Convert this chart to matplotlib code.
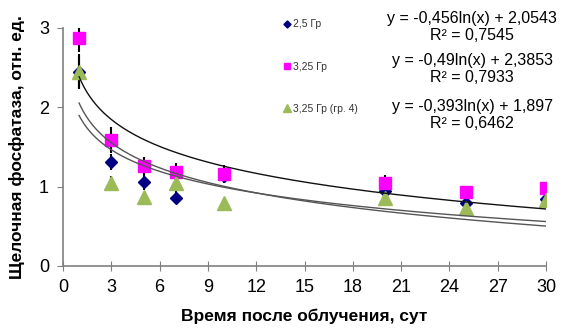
import numpy as np
import matplotlib
matplotlib.use("Agg")
import matplotlib.pyplot as plt

plt.rcParams['font.family'] = ['Liberation Sans', 'DejaVu Sans']

days = [1, 3, 5, 7, 10, 20, 25, 30]
s1_label = "2,5 Гр"
s1 = [2.45, 1.31, 1.06, 0.86, 1.13, 0.95, 0.80, 0.85]
s1_err = [0.20, 0.10, 0.10, 0.08, 0.08, 0.06, 0.06, 0.06]
s2_label = "3,25 Гр"
s2 = [2.87, 1.59, 1.26, 1.18, 1.16, 1.05, 0.93, 0.98]
s2_err = [0.17, 0.16, 0.11, 0.12, 0.11, 0.10, 0.08, 0.08]
s3_label = "3,25 Гр (гр. 4)"
s3 = [2.45, 1.05, 0.87, 1.05, 0.80, 0.86, 0.73, 0.83]
s3_err = [0.22, 0.08, 0.06, 0.08, 0.05, 0.06, 0.05, 0.05]

fits = [(-0.456, 2.0543, 0.7545), (-0.49, 2.3853, 0.7933), (-0.393, 1.897, 0.6462)]
eq_texts = ["y = -0,456ln(x) + 2,0543\nR² = 0,7545",
            "y = -0,49ln(x) + 2,3853\nR² = 0,7933",
            "y = -0,393ln(x) + 1,897\nR² = 0,6462"]

xticks = [0, 3, 6, 9, 12, 15, 18, 21, 24, 27, 30]
yticks = [0, 1, 2, 3]

fig = plt.figure(figsize=(5.7, 3.3), dpi=100)
ax = fig.add_axes([63/570, 1-266/330, (546-63)/570, (266-28)/330])

x = np.array(days)
# error bars
for y, e in [(s1, s1_err), (s2, s2_err), (s3, s3_err)]:
    ax.errorbar(x, y, yerr=e, fmt='none', ecolor='black', elinewidth=1.5, capsize=0, zorder=2)

h1, = ax.plot(x, s1, 'D', color='#000080', markersize=6, linestyle='none', zorder=3, label=s1_label)
h2, = ax.plot(x, s2, 's', color='#FF00FF', markersize=8, linestyle='none', zorder=4, label=s2_label)
h3, = ax.plot(x, s3, '^', color='#9BBB59', markersize=10, linestyle='none', zorder=5, label=s3_label)

xf = np.linspace(1, 30, 300)
for (a, b, r2), c in zip(fits, ['#555555', '#111111', '#555555']):
    ax.plot(xf, a*np.log(xf) + b, color=c, lw=1.0, zorder=6)

ax.set_xlim(0, 30)
ax.set_ylim(0, 3)
ax.set_xticks(xticks)
ax.set_yticks(yticks)
for s in ['top', 'right']:
    ax.spines[s].set_visible(False)
for s in ['left', 'bottom']:
    ax.spines[s].set_color('#808080')
    ax.spines[s].set_linewidth(1.2)
ax.tick_params(axis='both', direction='out', length=4, color='#808080', labelsize=13, pad=6)
ax.tick_params(axis='x', direction='inout', length=7)

ax.set_xlabel("Время после облучения, сут", fontsize=12.5, fontweight='bold', labelpad=9)
ax.set_ylabel("Щелочная фосфатаза, отн. ед.", fontsize=12.5, fontweight='bold', labelpad=10)

leg = fig.legend(handles=[h1, h2, h3], loc='upper left', bbox_to_anchor=(274/570, 1-10/330),
                 frameon=False, fontsize=7.5, labelspacing=3.1, handlelength=0.6, handletextpad=0.3,
                 markerscale=0.6)
for t in leg.get_texts():
    t.set_color('#333333')

eq_y = [27, 69, 115]
for t, yy in zip(eq_texts, eq_y):
    fig.text(472/570, 1-yy/330, t, ha='center', va='center', fontsize=11.5, linespacing=1.2)

fig.savefig("out.png", dpi=100)
